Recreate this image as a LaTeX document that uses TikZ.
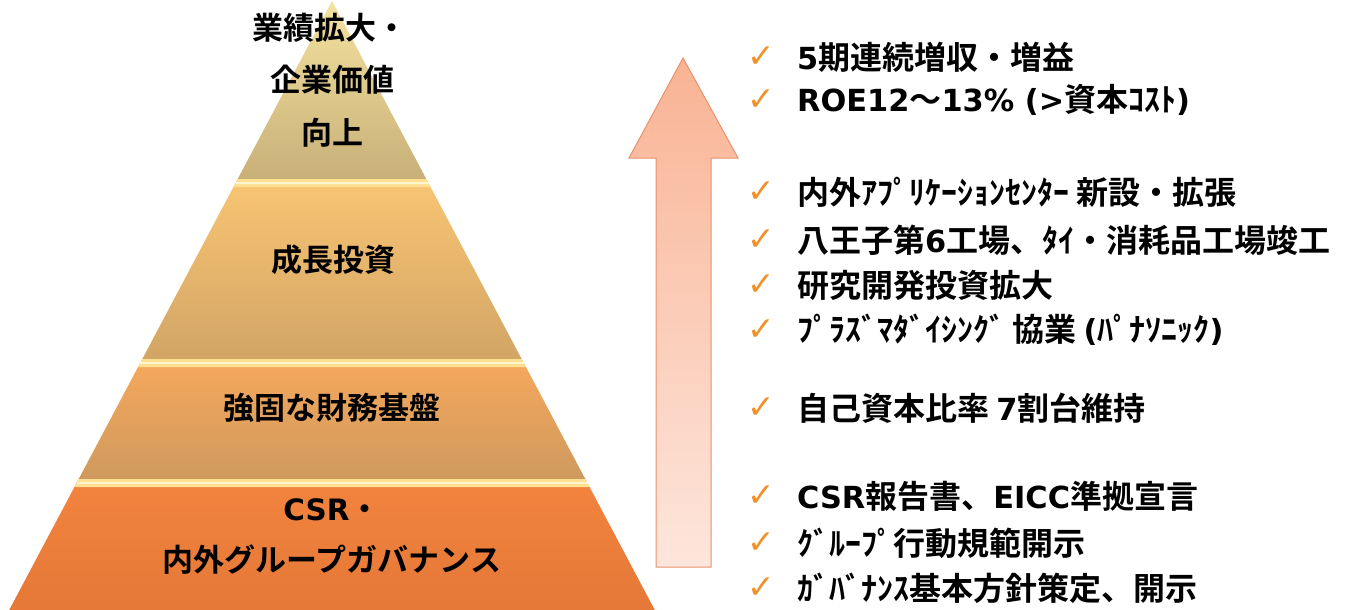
\documentclass[tikz,border=0pt]{standalone}
\usepackage{fontspec}
\newfontfamily\jpb{Noto Sans CJK JP Bold}
\newfontfamily\latb{DejaVu Sans}[UprightFont=* Bold, Scale=0.95]
\newfontfamily\symf{DejaVu Sans}
\definecolor{laOneT}{HTML}{F4E2A0}
\definecolor{laOneB}{HTML}{C8B078}
\definecolor{laTwoT}{HTML}{F9C574}
\definecolor{laTwoB}{HTML}{D2A565}
\definecolor{laThrT}{HTML}{F6A85C}
\definecolor{laThrB}{HTML}{CF9A5E}
\definecolor{laFouT}{HTML}{F2843F}
\definecolor{laFouB}{HTML}{E67838}
\definecolor{stripeC}{HTML}{FFDF90}
\definecolor{stripeL}{HTML}{FFF6CF}
\definecolor{arrT}{HTML}{F9B394}
\definecolor{arrB}{HTML}{FDE6DC}
\definecolor{arrD}{HTML}{E9916C}
\definecolor{chkC}{HTML}{F0922C}
\tikzset{
  pyrtext/.style={font=\jpb\fontsize{31}{31}\selectfont, text=black, inner sep=0pt, anchor=center},
  itemtext/.style={font=\jpb\fontsize{32}{32}\selectfont, text=black, inner sep=0pt, anchor=west},
  chk/.style={font=\symf\fontsize{33}{33}\selectfont, text=chkC, inner sep=0pt, anchor=center},
  stripeband/.style={fill=stripeC},
  stripeline/.style={draw=stripeL, line width=2.5pt}
}
\begin{document}
\begin{tikzpicture}[x=1pt,y=-1pt]
\useasboundingbox (0,0) rectangle (1345,610);
% pyramid layers
\path[top color=laOneT, bottom color=laOneB] (332,1) -- (426.3,179) -- (237.7,179) -- cycle;
\path[top color=laTwoT, bottom color=laTwoB] (237.7,179) -- (426.3,179) -- (521.7,359) -- (142.3,359) -- cycle;
\path[top color=laThrT, bottom color=laThrB] (142.3,359) -- (521.7,359) -- (585.3,479) -- (78.7,479) -- cycle;
\path[top color=laFouT, bottom color=laFouB] (78.7,479) -- (585.3,479) -- (654.8,610) -- (9.2,610) -- cycle;
% bevel stripes
\fill[stripeband] (237.7,179) -- (426.3,179) -- (430.6,187) -- (233.4,187) -- cycle;
\draw[stripeline] (235.5,183) -- (428.5,183);
\fill[stripeband] (142.3,359) -- (521.7,359) -- (526,367) -- (138,367) -- cycle;
\draw[stripeline] (140.1,363) -- (523.9,363);
\fill[stripeband] (78.7,479) -- (585.3,479) -- (589.6,487) -- (74.4,487) -- cycle;
\draw[stripeline] (76.5,483) -- (587.5,483);
% pyramid texts
\node[pyrtext] (p1a) at (330,28) {業績拡大・};
\node[pyrtext] (p1b) at (332,80) {企業価値};
\node[pyrtext] (p1c) at (332,133) {向上};
\node[pyrtext] (p2) at (333,260) {成長投資};
\node[pyrtext] (p3) at (332,408) {強固な財務基盤};
\node[pyrtext] (p4a) at (332,510) {{\latb CSR}・};
\node[pyrtext] (p4b) at (332,560) {内外グループガバナンス};
% arrow
\path[top color=arrT, bottom color=arrB, draw=arrD, line width=1pt]
  (683,58) -- (738,158) -- (711,158) -- (711,567) -- (656,567) -- (656,158) -- (629,158) -- cycle;
% checklist
\foreach \yy/\nm in {57/c1,100/c2,192/c3,240/c4,285/c5,330/c6,408/c7,496/c8,543/c9,588/c10}{
  \node[chk] (\nm) at (761,\yy) {✓};
}
\node[itemtext] (i1) at (797,57) {{\latb 5}期連続増収・増益};
\node[itemtext] (i2) at (797,100) {{\latb ROE12}～{\latb 13\% (>}資本ｺｽﾄ{\latb )}};
\node[itemtext] (i3) at (797,192) {内外ｱﾌﾟﾘｹｰｼｮﾝｾﾝﾀｰ 新設・拡張};
\node[itemtext] (i4) at (797,240) {八王子第{\latb 6}工場、ﾀｲ・消耗品工場竣工};
\node[itemtext] (i5) at (797,285) {研究開発投資拡大};
\node[itemtext] (i6) at (797,330) {ﾌﾟﾗｽﾞﾏﾀﾞｲｼﾝｸﾞ 協業 {\latb (}ﾊﾟﾅｿﾆｯｸ{\latb )}};
\node[itemtext] (i7) at (797,408) {自己資本比率 {\latb 7}割台維持};
\node[itemtext] (i8) at (797,496) {{\latb CSR}報告書、{\latb EICC}準拠宣言};
\node[itemtext] (i9) at (797,543) {ｸﾞﾙｰﾌﾟ行動規範開示};
\node[itemtext] (i10) at (797,588) {ｶﾞﾊﾞﾅﾝｽ基本方針策定、開示};
\end{tikzpicture}
\end{document}
